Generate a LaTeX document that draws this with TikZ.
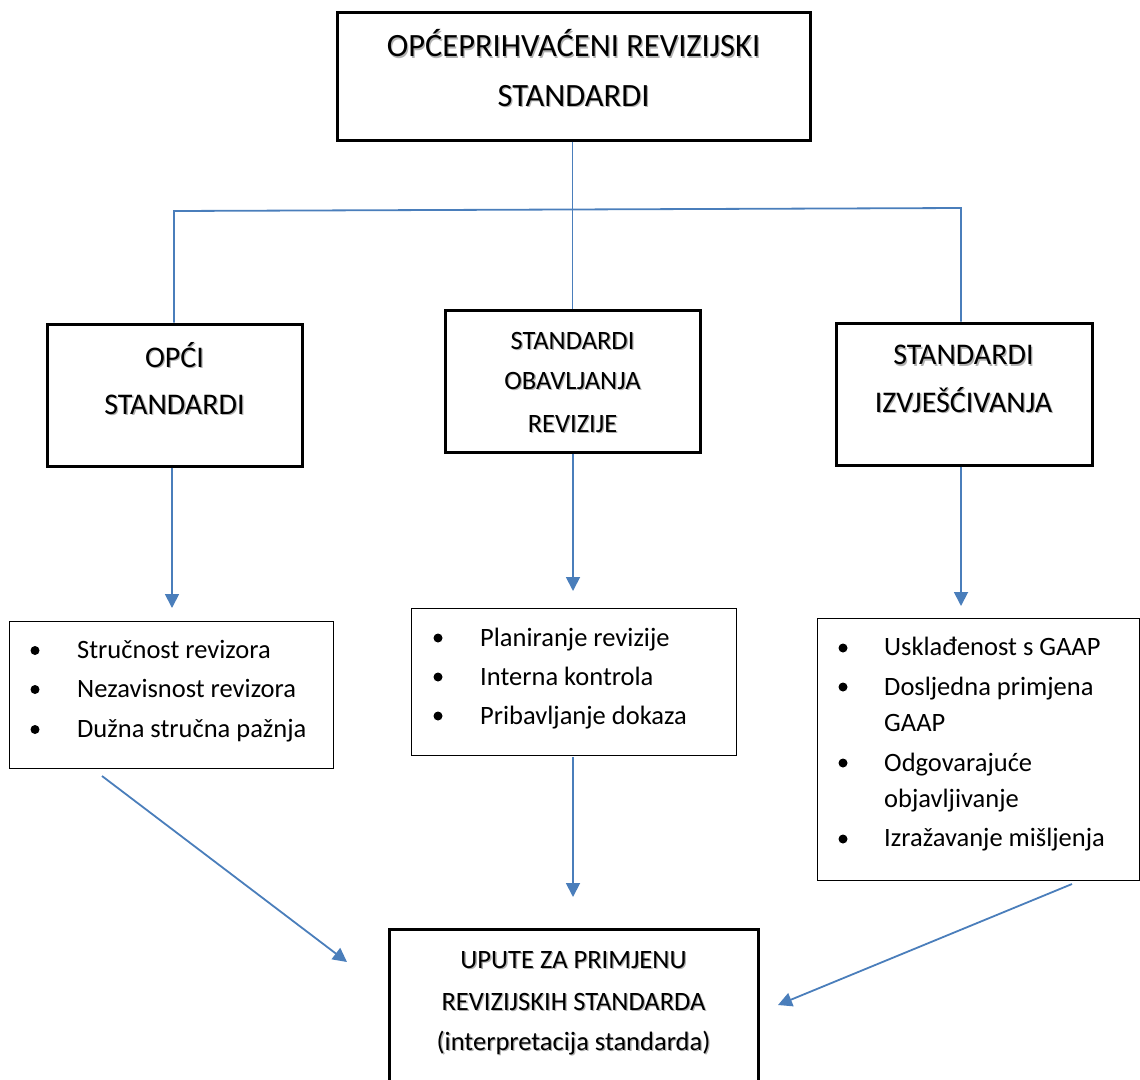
\documentclass[tikz,border=0pt]{standalone}
\usepackage{fontspec}
\setmainfont{Carlito}
\usetikzlibrary{arrows.meta}
\definecolor{connc}{RGB}{74,126,187}
\newcommand\shadowtxt[1]{\rlap{\hspace{1.3pt}\raisebox{-1.3pt}{\textcolor{black!30}{#1}}}#1}
\begin{document}
\begin{tikzpicture}[x=1pt,y=-1pt,
  bigbox/.style={draw=black, line width=3pt, inner sep=0pt},
  listbox/.style={draw=black, line width=0.9pt, inner sep=0pt},
  conn/.style={draw=connc, line width=1.8pt},
  arr/.style={conn, -{Triangle[width=14pt,length=14pt]}},
  line/.style={anchor=base, inner sep=0pt},
  hdrA/.style={line, font=\fontsize{32.5}{36}\selectfont},
  hdrB/.style={line, font=\fontsize{30}{34}\selectfont},
  hdrC/.style={line, font=\fontsize{26.5}{30}\selectfont},
  itemtxt/.style={anchor=base west, inner sep=0pt, font=\fontsize{26.5}{30}\selectfont},
  bul/.style={fill=black}]
\useasboundingbox (0,0) rectangle (1140,1079);
\clip (0,0) rectangle (1140,1079);

% header boxes
\node[bigbox, minimum width=473pt, minimum height=128pt] (top) at (573.5,76) {};
\node[hdrA] (top1) at (573.5,56.7) {\shadowtxt{OPĆEPRIHVAĆENI REVIZIJSKI}};
\node[hdrA] (top2) at (573.5,106) {\shadowtxt{STANDARDI}};

\node[bigbox, minimum width=255pt, minimum height=142pt] (b1) at (174.5,395) {};
\node[hdrB] (b1a) at (174.5,367) {\shadowtxt{OPĆI}};
\node[hdrB] (b1b) at (174.5,414) {\shadowtxt{STANDARDI}};

\node[bigbox, minimum width=255pt, minimum height=142pt] (b2) at (572.5,381) {};
\node[hdrC] (b2a) at (572.5,349) {\shadowtxt{STANDARDI}};
\node[hdrC] (b2b) at (572.5,389.5) {\shadowtxt{OBAVLJANJA}};
\node[hdrC] (b2c) at (572.5,432.5) {\shadowtxt{REVIZIJE}};

\node[bigbox, minimum width=256pt, minimum height=142pt] (b3) at (964,394) {};
\node[hdrB] (b3a) at (963.5,364.7) {\shadowtxt{STANDARDI}};
\node[hdrB] (b3b) at (963.5,412) {\shadowtxt{IZVJEŠĆIVANJA}};

% tree connectors
\coordinate (hl) at (174,211);
\coordinate (hr) at (961,208);
\draw[conn] (top.south -| b2.north) -- (b2.north);
\draw[conn] (hl |- b1.north) -- (hl) -- (hr) -- (hr |- b3.north);

% list boxes
\node[listbox, minimum width=324pt, minimum height=147pt] (l1) at (171,694.5) {};
\node[listbox, minimum width=325pt, minimum height=147pt] (l2) at (573.5,681.5) {};
\node[listbox, minimum width=322pt, minimum height=262pt] (l3) at (978,749) {};

% arrows into lists
\coordinate (a1) at (172,608);
\coordinate (a2) at (573,591);
\coordinate (a3) at (961,606);
\draw[arr] (a1 |- b1.south) -- (a1);
\draw[arr] (a2 |- b2.south) -- (a2);
\draw[arr] (a3 |- b3.south) -- (a3);

% list 1
\foreach \y in {650.5,689.5,729.5} \fill[bul] (35,\y) circle (4.5);
\node[itemtxt] (t11) at (77,658.3) {Stručnost revizora};
\node[itemtxt] (t12) at (77,697.3) {Nezavisnost revizora};
\node[itemtxt] (t13) at (77,737.3) {Dužna stručna pažnja};

% list 2
\foreach \y in {638,677,716} \fill[bul] (438,\y) circle (4.5);
\node[itemtxt] (t21) at (480,646) {Planiranje revizije};
\node[itemtxt] (t22) at (480,685) {Interna kontrola};
\node[itemtxt] (t23) at (480,724) {Pribavljanje dokaza};

% list 3
\foreach \y in {648,687,763,839} \fill[bul] (843,\y) circle (4.5);
\node[itemtxt] (t31) at (884,655.5) {Usklađenost s GAAP};
\node[itemtxt] (t32) at (884,695) {Dosljedna primjena};
\node[itemtxt] (t33) at (884,731.5) {GAAP};
\node[itemtxt] (t34) at (884,771.5) {Odgovarajuće};
\node[itemtxt] (t35) at (884,807) {objavljivanje};
\node[itemtxt] (t36) at (884,846.5) {Izražavanje mišljenja};

% bottom box
\node[bigbox, anchor=north, minimum width=369pt, minimum height=170pt] (bot) at (573.5,928) {};
\node[hdrC] (bot1) at (573.5,968.3) {\shadowtxt{UPUTE ZA PRIMJENU}};
\node[hdrC] (bot2) at (573.5,1010.5) {\shadowtxt{REVIZIJSKIH STANDARDA}};
\node[hdrC] (bot3) at (573.5,1050) {\shadowtxt{(interpretacija standarda)}};

% arrows into bottom
\coordinate (s1) at (102,776);
\coordinate (e1) at (347,962);
\coordinate (s2) at (573,757);
\coordinate (e2) at (573,897);
\coordinate (s3) at (1072,884);
\coordinate (e3) at (778,1005);
\draw[arr] (s1) -- (e1);
\draw[arr] (s2) -- (e2);
\draw[arr] (s3) -- (e3);
\end{tikzpicture}
\end{document}
